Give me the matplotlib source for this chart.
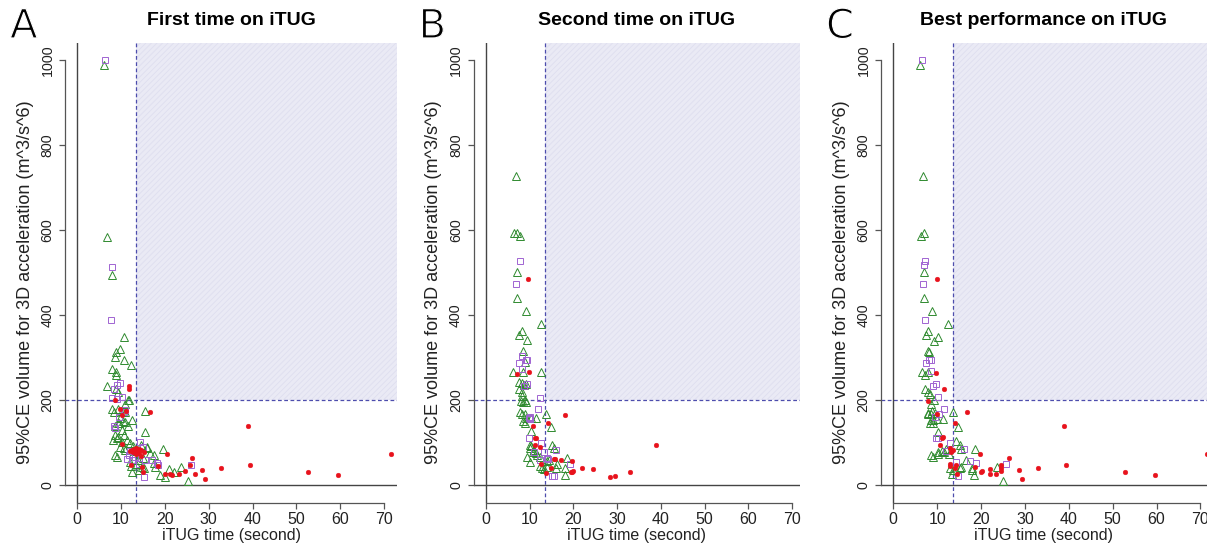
import numpy as np
import matplotlib.pyplot as plt
import matplotlib.patheffects as pe

# ---- data (x = iTUG time [s], y = 95%CE volume) ----
# panel A: first time on iTUG
a_tri_x = [6.0, 6.8, 7.9, 10.6, 8.9, 9.8, 8.7, 10.6, 12.3, 8.0, 8.9, 8.8, 6.8, 8.9, 9.3, 11.5, 8.0, 8.3, 15.4,
           12.5, 9.8, 11.0, 9.4, 8.7, 10.2, 15.5, 8.6, 9.4, 10.6, 8.2, 9.0, 11.4, 10.2, 12.1, 8.7, 9.0, 10.6, 11.0,
           19.5, 17.6, 15.9, 15.1, 17.4, 17.8, 18.9, 20.1, 21.0, 23.7, 25.2, 12.5, 12.2, 13.4, 12.0, 14.7, 15.3,
           12.8, 13.1, 13.3, 10.3, 11.0, 9.5, 10.5, 11.8, 9.3, 14.5, 16.0, 13.8, 14.0, 22.0, 16.5, 9.8, 10.8,
           11.5, 12.8]
a_tri_y = [988, 583, 495, 348, 313, 321, 301, 293, 283, 272, 266, 258, 233, 227, 219, 200, 180, 172, 173,
           153, 157, 148, 145, 138, 129, 124, 118, 112, 118, 105, 110, 107, 102, 98, 70, 66, 86, 82,
           85, 70, 86, 63, 51, 43, 23, 20, 37, 43, 9, 30, 45, 50, 55, 43, 40,
           75, 80, 85, 175, 172, 145, 150, 200, 180, 95, 90, 60, 35, 30, 75, 90, 190,
           140, 92]
a_sq_x = [6.4, 7.9, 7.7, 9.8, 9.1, 8.4, 8.0, 9.1, 10.2, 10.8, 10.6, 8.3, 8.7, 11.7, 11.3, 14.4, 15.0, 15.5,
          18.2, 18.4, 15.2, 26.0, 13.2, 12.5, 9.6, 12.0, 14.0, 17.0]
a_sq_y = [1000, 512, 388, 241, 236, 227, 205, 203, 208, 176, 172, 138, 133, 70, 62, 102, 90, 59,
          51, 47, 20, 48, 66, 58, 160, 80, 50, 60]
a_dot_x = [71.5, 52.7, 59.6, 38.9, 39.4, 32.9, 28.4, 29.2, 26.9, 26.1, 25.8, 24.6, 23.2, 21.6, 21.2, 20.1,
           20.4, 18.5, 16.6, 15.0, 14.8, 10.2, 9.8, 11.7, 11.9, 8.6, 10.2, 12.3, 12.5, 13.0, 13.7, 14.1,
           14.6, 13.4, 14.5, 12.8, 13.5, 15.2, 11.2, 12.0, 14.0]
a_dot_y = [72, 30, 23, 139, 48, 41, 35, 14, 25, 64, 47, 34, 25, 23, 26, 27,
           74, 45, 171, 30, 43, 164, 178, 227, 233, 199, 96, 47, 82, 84, 80, 84,
           82, 72, 68, 78, 88, 78, 175, 80, 76]

# panel B: second time on iTUG
b_tri_x = [6.9, 6.5, 7.1, 7.9, 7.1, 7.2, 9.2, 12.6, 8.2, 7.7, 9.4, 8.6, 9.0, 6.3, 8.4, 12.6, 7.5, 8.2, 8.8,
           9.2, 7.7, 8.3, 8.2, 8.9, 8.6, 8.0, 9.2, 7.9, 8.2, 8.9, 9.1, 8.6, 8.9, 13.8, 14.9, 10.3, 11.5,
           10.3, 10.0, 10.3, 10.2, 10.7, 11.1, 11.4, 9.4, 10.2, 11.8, 12.4, 15.1, 15.5, 18.5, 18.0, 18.0,
           12.5, 13.3, 12.9, 14.0, 14.0, 14.4, 16.0, 16.3]
b_tri_y = [727, 594, 594, 587, 501, 440, 409, 380, 362, 354, 342, 315, 289, 266, 266, 266, 243, 240, 236,
           238, 225, 218, 210, 200, 196, 198, 196, 172, 168, 168, 157, 150, 147, 168, 137, 157, 157,
           127, 95, 92, 88, 78, 82, 75, 66, 55, 70, 65, 94, 88, 63, 39, 24,
           45, 38, 40, 43, 57, 60, 40, 50]
b_sq_x = [7.9, 6.9, 8.3, 9.2, 9.4, 7.7, 8.3, 9.4, 8.8, 12.3, 11.9, 9.8, 10.0, 9.8, 12.7, 13.4, 16.1, 19.3,
          15.2, 15.5, 11.1, 14.0, 14.3, 10.0, 12.5]
b_sq_y = [527, 472, 303, 294, 294, 286, 272, 237, 234, 205, 180, 157, 155, 111, 99, 78, 82, 49,
          22, 22, 78, 64, 62, 160, 60]
b_dot_x = [9.7, 7.2, 9.8, 18.0, 14.2, 10.9, 11.2, 11.5, 11.3, 12.3, 15.6, 15.8, 17.1, 19.7, 19.7, 20.0,
           19.5, 21.9, 24.5, 28.3, 29.5, 33.0, 39.0, 12.7, 13.8, 14.9]
b_dot_y = [484, 261, 266, 164, 145, 139, 111, 111, 94, 90, 61, 62, 59, 56, 30, 33,
           31, 39, 38, 18, 21, 31, 94, 49, 28, 41]

# panel C: best performance on iTUG
c_tri_x = [6.1, 6.7, 6.4, 7.1, 6.9, 7.1, 8.9, 12.4, 8.0, 7.4, 9.2, 10.3, 7.8, 8.2, 6.5, 7.3, 8.0, 7.3, 7.8,
           8.3, 13.7, 7.8, 8.0, 8.5, 8.9, 9.4, 10.0, 11.3, 8.7, 9.1, 8.4, 9.0, 14.7, 10.3, 10.3, 11.0, 10.2,
           11.6, 12.0, 12.6, 14.2, 15.2, 15.5, 18.6, 17.9, 18.4, 18.0, 23.6, 25.1, 13.0, 13.3, 13.5, 15.2,
           15.5, 8.7, 9.0, 16.5, 9.2, 8.7]
c_tri_y = [988, 727, 587, 593, 501, 440, 409, 380, 362, 354, 340, 349, 315, 312, 266, 260, 266, 227, 219,
           213, 172, 170, 167, 168, 175, 170, 155, 155, 152, 152, 145, 145, 136, 125, 78, 80, 72,
           78, 85, 72, 104, 94, 85, 85, 39, 24, 36, 42, 9, 40, 27, 35, 39,
           43, 70, 66, 60, 200, 190]
c_sq_x = [6.5, 7.3, 7.1, 6.7, 7.3, 7.4, 8.2, 8.6, 8.7, 9.7, 9.1, 10.1, 11.6, 9.7, 10.3, 12.9, 16.1, 17.5,
          18.8, 25.6, 14.4, 14.7, 9.4, 12.0, 10.5]
c_sq_y = [1000, 526, 517, 472, 388, 286, 294, 294, 268, 237, 233, 207, 180, 111, 111, 98, 85, 56,
          51, 49, 55, 22, 160, 80, 168]
c_dot_x = [9.9, 9.7, 11.6, 8.0, 16.7, 10.0, 14.0, 11.4, 12.9, 13.7, 13.2, 19.8, 18.6, 19.9, 20.3, 22.0,
           22.0, 23.3, 24.6, 24.6, 24.5, 26.3, 28.7, 29.3, 33.0, 39.0, 39.4, 52.8, 59.7, 71.4, 14.1,
           14.6, 14.3, 12.9, 12.9, 10.7, 11.0]
c_dot_y = [484, 264, 225, 198, 171, 166, 145, 112, 86, 82, 78, 74, 42, 31, 34, 38,
           25, 25, 39, 33, 47, 64, 35, 14, 41, 139, 47, 31, 23, 72, 39,
           27, 47, 45, 49, 95, 110]

titles = ['First time on iTUG', 'Second time on iTUG', 'Best performance on iTUG']
letters = ['A', 'B', 'C']
x_cut = 13.5   # iTUG time cut-off
y_cut = 200    # volume cut-off

panels = [
    (a_tri_x, a_tri_y, a_sq_x, a_sq_y, a_dot_x, a_dot_y),
    (b_tri_x, b_tri_y, b_sq_x, b_sq_y, b_dot_x, b_dot_y),
    (c_tri_x, c_tri_y, c_sq_x, c_sq_y, c_dot_x, c_dot_y),
]

# layout in pixels (figure is 1207 x 550)
W, H = 1207, 550
lefts = [65, 473.5, 881]
rights = [397, 800, 1207]
xmaxs = [72.96, 71.8, 71.5]
bot_px, top_px = 503, 43
ylim = (-42.3, 1040)

plt.rcParams['font.family'] = ['Liberation Sans', 'DejaVu Sans']
plt.rcParams['hatch.linewidth'] = 0.6

fig = plt.figure(figsize=(W / 100, H / 100), dpi=100)

for i, (tx, ty, sx, sy, dx, dy) in enumerate(panels):
    wpx = rights[i] - lefts[i]
    ax = fig.add_axes([lefts[i] / W, (H - bot_px) / H, wpx / W, (bot_px - top_px) / H])
    ax.set_xlim(-2.8, xmaxs[i])
    ax.set_ylim(*ylim)
    ax.patch.set_visible(False)

    # shaded region (long time, large volume)
    ax.fill_between([x_cut, xmaxs[i]], y_cut, ylim[1], facecolor='#eaeaf5',
                    edgecolor='#dedeef', hatch='//////', linewidth=0, zorder=0)
    ax.axvline(x_cut, color='#4d4dad', lw=0.9, ls=(0, (3, 2)), zorder=1)
    ax.axhline(y_cut, color='#4d4dad', lw=0.9, ls=(0, (3, 2)), zorder=1)
    ax.axvline(0, color='#444444', lw=1.0, zorder=1)
    ax.axhline(0, color='#444444', lw=1.0, zorder=1)

    ax.plot(tx, ty, ls='none', marker='^', ms=5.5, mfc='none', mec='#2f8a2f', mew=0.7, zorder=3)
    ax.plot(sx, sy, ls='none', marker='s', ms=4.3, mfc='none', mec='#a064d2', mew=0.7, zorder=3)
    ax.plot(dx, dy, ls='none', marker='o', ms=3.4, mfc='#e8121c', mec='#e8121c', mew=0.3, zorder=4)

    for s in ['top', 'right']:
        ax.spines[s].set_visible(False)
    ax.spines['left'].set_bounds(0, 1000)
    ax.spines['bottom'].set_bounds(0, 70)
    for s in ['left', 'bottom']:
        ax.spines[s].set_color('#555555')
        ax.spines[s].set_linewidth(0.9)
    ax.set_xticks(np.arange(0, 71, 10))
    ax.set_yticks(np.arange(0, 1001, 200))
    ax.tick_params(direction='out', length=4.5, width=0.9, color='#555555',
                   labelcolor='#222222', pad=2)
    ax.tick_params(axis='x', labelsize=11.5)
    ax.tick_params(axis='y', labelsize=10.3, pad=3)
    for lab in ax.get_yticklabels():
        lab.set_rotation(90)
        lab.set_va('center')

    ax.set_xlabel('iTUG time (second)', fontsize=11.5, color='#222222', labelpad=1)
    ax.set_ylabel('95%CE volume for 3D acceleration (m^3/s^6)', fontsize=13,
                  color='#222222', labelpad=4)
    ax.yaxis.set_label_coords(-31 / wpx, 0.48)
    ax.set_title(titles[i], fontsize=14, fontweight='bold', pad=13)

    # panel letter, slightly thinned with a white stroke over its outline
    fig.text((lefts[i] - 55) / W, 1 - 27 / H, letters[i], fontsize=29,
             family=['DejaVu Sans'], va='center', ha='left',
             path_effects=[pe.Normal(), pe.Stroke(linewidth=0.9, foreground='white')])

fig.savefig('out.png', dpi=100)
